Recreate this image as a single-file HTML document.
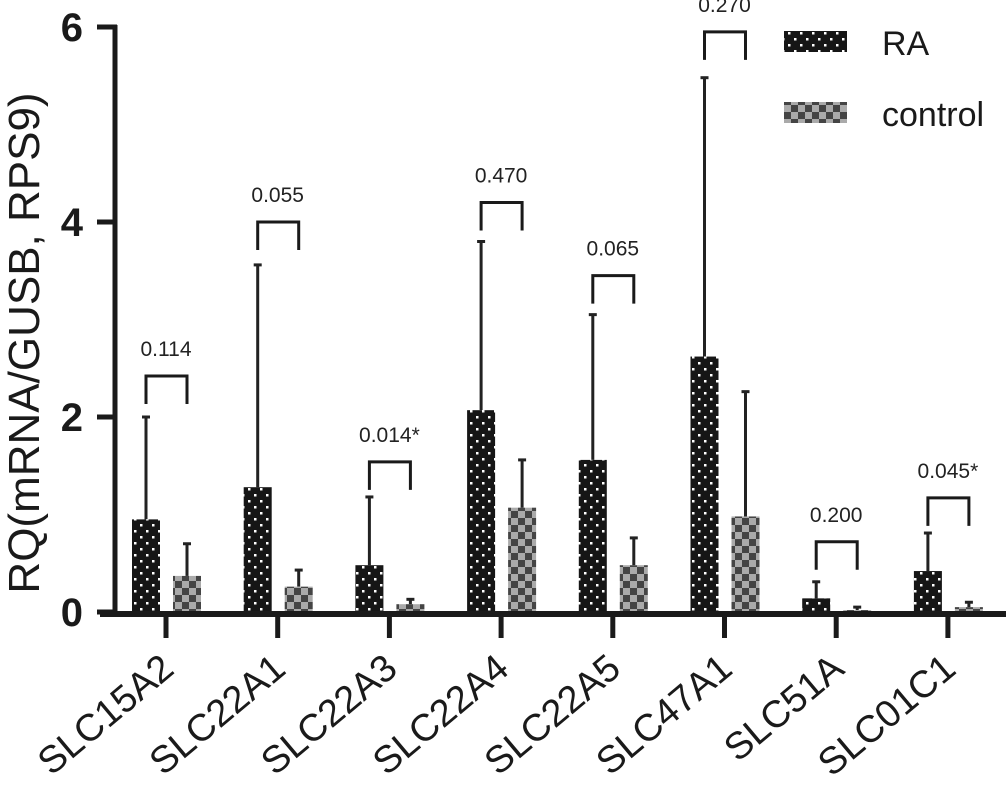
<!DOCTYPE html>
<html><head><meta charset="utf-8"><style>
body{margin:0;background:#fff}
svg text{font-family:"Liberation Sans",Arial,sans-serif}
</style></head><body>
<svg id="chart" width="1006" height="793" viewBox="0 0 1006 793" xmlns="http://www.w3.org/2000/svg">
<defs>
<pattern id="dots" width="12" height="12" patternUnits="userSpaceOnUse">
<rect width="12" height="12" fill="#161616"/>
<rect x="2" y="2" width="2.5" height="2.5" fill="#fff"/>
<rect x="8" y="8" width="2.5" height="2.5" fill="#fff"/>
</pattern>
<pattern id="check" width="14" height="14" patternUnits="userSpaceOnUse">
<rect width="14" height="14" fill="#aaa"/>
<rect width="7" height="7" fill="#444"/>
<rect x="7" y="7" width="7" height="7" fill="#444"/>
</pattern>
</defs>
<g id="plot"></g>
</svg>
<script>
const categories=["SLC15A2","SLC22A1","SLC22A3","SLC22A4","SLC22A5","SLC47A1","SLC51A","SLC01C1"];
const raValues=[0.95,1.28,0.48,2.07,1.56,2.62,0.14,0.42];
const raErrTop=[2.0,3.56,1.18,3.8,3.05,5.48,0.31,0.81];
const ctrlValues=[0.37,0.26,0.08,1.07,0.48,0.98,0.02,0.05];
const ctrlErrTop=[0.7,0.43,0.13,1.56,0.76,2.26,0.05,0.1];
const pLabels=["0.114","0.055","0.014*","0.470","0.065","0.270","0.200","0.045*"];
const bracketLevel=[2.42,4.0,1.54,4.2,3.45,5.95,0.72,1.17];
const yTicks=[0,2,4,6];

const NS="http://www.w3.org/2000/svg";
const g=document.getElementById('plot');
const y=v=>612-v*97.5;
const xc=i=>166+i*111.7;
function el(t,a,p){const e=document.createElementNS(NS,t);for(const k in a)e.setAttribute(k,a[k]);(p||g).appendChild(e);return e;}

categories.forEach((c,i)=>{
  const cx=xc(i), rx=cx-34, kx=cx+7, w=28;
  let b=el('line',{x1:rx+14,x2:rx+14,y1:y(raErrTop[i]),y2:y(raValues[i]),stroke:'#222','stroke-width':3});
  
  b=el('line',{x1:rx+10,x2:rx+18,y1:y(raErrTop[i]),y2:y(raErrTop[i]),stroke:'#222','stroke-width':3});
  
  b=el('line',{x1:kx+14,x2:kx+14,y1:y(ctrlErrTop[i]),y2:y(ctrlValues[i]),stroke:'#222','stroke-width':3});
  
  b=el('line',{x1:kx+10,x2:kx+18,y1:y(ctrlErrTop[i]),y2:y(ctrlErrTop[i]),stroke:'#222','stroke-width':3});
  
  b=el('rect',{x:rx,y:y(raValues[i]),width:w,height:y(0)-y(raValues[i]),fill:'url(#dots)'});
  
  b=el('rect',{x:kx,y:y(ctrlValues[i]),width:w,height:y(0)-y(ctrlValues[i]),fill:'url(#check)'});
  
  const by=y(bracketLevel[i]);
  b=el('path',{d:`M${rx+14} ${by+28}V${by}H${kx+14}V${by+28}`,fill:'none',stroke:'#1a1a1a','stroke-width':3});
  
  b=el('text',{x:cx,y:by-20,'text-anchor':'middle','font-size':21,fill:'#222'});b.textContent=pLabels[i];
  
  b=el('line',{x1:cx,x2:cx,y1:612,y2:638,stroke:'#1a1a1a','stroke-width':5});
  
  b=el('text',{x:0,y:0,'text-anchor':'end','font-size':38,fill:'#1a1a1a',transform:`translate(${cx+10},${672}) rotate(-40)`});b.textContent=c;
  
});
yTicks.forEach(t=>{
  let b=el('line',{x1:97,x2:117,y1:y(t),y2:y(t),stroke:'#1a1a1a','stroke-width':5});
  
  b=el('text',{x:83,y:y(t)+14,'text-anchor':'end','font-size':40,'font-weight':'bold',fill:'#1a1a1a'});b.textContent=t;
  
});
let a=el('line',{x1:115,x2:115,y1:y(6)-2,y2:617,stroke:'#1a1a1a','stroke-width':5});

a=el('line',{x1:100,x2:1006,y1:614,y2:614,stroke:'#1a1a1a','stroke-width':6});

a=el('text',{x:0,y:0,'text-anchor':'middle','font-size':44,fill:'#1a1a1a',transform:'translate(39,343) rotate(-90)'});a.textContent='RQ(mRNA/GUSB, RPS9)';

a=el('rect',{x:784,y:31,width:63,height:21,fill:'url(#dots)'});

a=el('text',{x:882,y:55,'font-size':34,fill:'#1a1a1a'});a.textContent='RA';

a=el('rect',{x:784,y:102,width:63,height:21,fill:'url(#check)'});

a=el('text',{x:882,y:126,'font-size':34,fill:'#1a1a1a'});a.textContent='control';

</script>
</body></html>
